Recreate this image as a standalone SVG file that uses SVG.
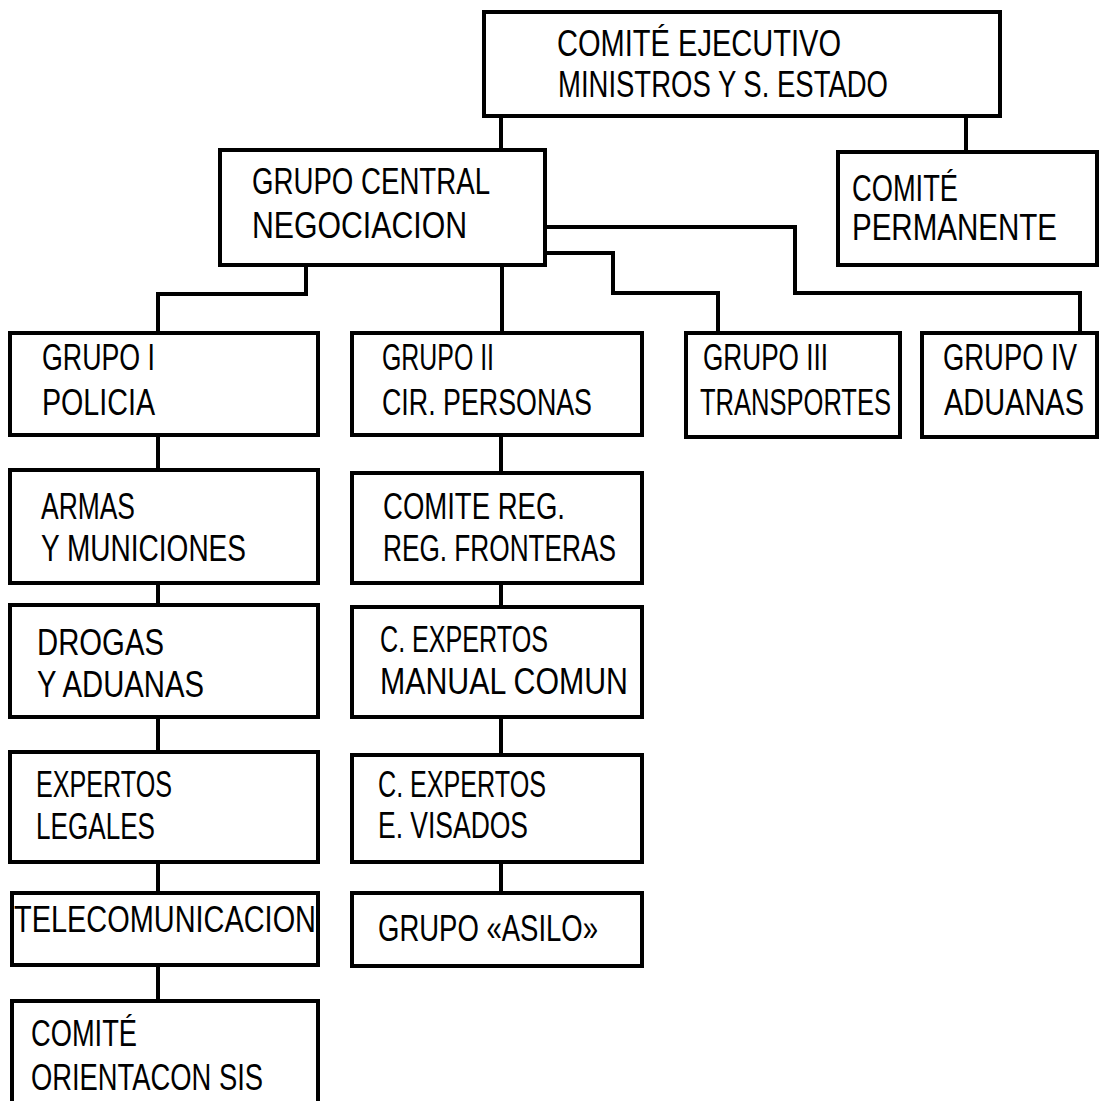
<svg xmlns="http://www.w3.org/2000/svg" width="1099" height="1101" viewBox="0 0 1099 1101">
<style>
.box{fill:#fff;stroke:#000;stroke-width:4}
.ln{fill:none;stroke:#000;stroke-width:4;stroke-linejoin:miter}
text{font-family:"Liberation Sans",Arial,sans-serif;font-size:36px;fill:#000}
</style>
<rect width="1099" height="1101" fill="#fff"/>
<g id="connectors">
<path class="ln" d="M501 116V150"/>
<path class="ln" d="M966 116V152"/>
<path class="ln" d="M306 265V294H158V333"/>
<path class="ln" d="M502 265V333"/>
<path class="ln" d="M545 253H613V293H718V333"/>
<path class="ln" d="M545 227H795V293H1080V333"/>
<path class="ln" d="M158 435V470"/>
<path class="ln" d="M158 583V605"/>
<path class="ln" d="M158 717V752"/>
<path class="ln" d="M158 862V893"/>
<path class="ln" d="M158 965V1001"/>
<path class="ln" d="M501 435V473"/>
<path class="ln" d="M501 583V607"/>
<path class="ln" d="M501 717V755"/>
<path class="ln" d="M501 862V893"/>
</g>
<g id="comite-ejecutivo"><rect class="box" x="484" y="12" width="516" height="104"/>
<text x="557" y="56" textLength="284" lengthAdjust="spacingAndGlyphs">COMITÉ  EJECUTIVO</text>
<text x="558" y="97" textLength="330" lengthAdjust="spacingAndGlyphs">MINISTROS  Y  S. ESTADO</text></g>
<g id="grupo-central"><rect class="box" x="220" y="150" width="325" height="115"/>
<text x="252" y="194" textLength="238" lengthAdjust="spacingAndGlyphs">GRUPO CENTRAL</text>
<text x="252" y="238" textLength="215" lengthAdjust="spacingAndGlyphs">NEGOCIACION</text></g>
<g id="comite-permanente"><rect class="box" x="838" y="152" width="259" height="113"/>
<text x="852" y="201" textLength="106" lengthAdjust="spacingAndGlyphs">COMITÉ</text>
<text x="852" y="240" textLength="205" lengthAdjust="spacingAndGlyphs">PERMANENTE</text></g>
<g id="grupo-1"><rect class="box" x="10" y="333" width="308" height="102"/>
<text x="42" y="370" textLength="113" lengthAdjust="spacingAndGlyphs">GRUPO I</text>
<text x="42" y="415" textLength="113" lengthAdjust="spacingAndGlyphs">POLICIA</text></g>
<g id="grupo-2"><rect class="box" x="352" y="333" width="290" height="102"/>
<text x="382" y="370" textLength="112" lengthAdjust="spacingAndGlyphs">GRUPO II</text>
<text x="382" y="415" textLength="210" lengthAdjust="spacingAndGlyphs">CIR. PERSONAS</text></g>
<g id="grupo-3"><rect class="box" x="686" y="333" width="214" height="104"/>
<text x="703" y="370" textLength="125" lengthAdjust="spacingAndGlyphs">GRUPO III</text>
<text x="700" y="415" textLength="191" lengthAdjust="spacingAndGlyphs">TRANSPORTES</text></g>
<g id="grupo-4"><rect class="box" x="922" y="333" width="175" height="104"/>
<text x="943" y="370" textLength="134" lengthAdjust="spacingAndGlyphs">GRUPO IV</text>
<text x="944" y="415" textLength="140" lengthAdjust="spacingAndGlyphs">ADUANAS</text></g>
<g id="armas"><rect class="box" x="10" y="470" width="308" height="113"/>
<text x="41" y="519" textLength="94" lengthAdjust="spacingAndGlyphs">ARMAS</text>
<text x="41" y="561" textLength="205" lengthAdjust="spacingAndGlyphs">Y MUNICIONES</text></g>
<g id="drogas"><rect class="box" x="10" y="605" width="308" height="112"/>
<text x="37" y="655" textLength="127" lengthAdjust="spacingAndGlyphs">DROGAS</text>
<text x="37" y="697" textLength="167" lengthAdjust="spacingAndGlyphs">Y ADUANAS</text></g>
<g id="expertos-legales"><rect class="box" x="10" y="752" width="308" height="110"/>
<text x="36" y="797" textLength="136" lengthAdjust="spacingAndGlyphs">EXPERTOS</text>
<text x="36" y="839" textLength="119" lengthAdjust="spacingAndGlyphs">LEGALES</text></g>
<g id="telecomunicacion"><rect class="box" x="12" y="893" width="306" height="72"/>
<text x="14" y="932" textLength="302" lengthAdjust="spacingAndGlyphs">TELECOMUNICACION</text></g>
<g id="comite-orientacion"><rect class="box" x="12" y="1001" width="306" height="110"/>
<text x="31" y="1046" textLength="106" lengthAdjust="spacingAndGlyphs">COMITÉ</text>
<text x="31" y="1090" textLength="232" lengthAdjust="spacingAndGlyphs">ORIENTACON SIS</text></g>
<g id="comite-reg"><rect class="box" x="352" y="473" width="290" height="110"/>
<text x="383" y="519" textLength="182" lengthAdjust="spacingAndGlyphs">COMITE REG.</text>
<text x="383" y="561" textLength="233" lengthAdjust="spacingAndGlyphs">REG. FRONTERAS</text></g>
<g id="expertos-manual"><rect class="box" x="352" y="607" width="290" height="110"/>
<text x="380" y="652" textLength="168" lengthAdjust="spacingAndGlyphs">C. EXPERTOS</text>
<text x="380" y="694" textLength="248" lengthAdjust="spacingAndGlyphs">MANUAL COMUN</text></g>
<g id="expertos-visados"><rect class="box" x="352" y="755" width="290" height="107"/>
<text x="378" y="797" textLength="168" lengthAdjust="spacingAndGlyphs">C. EXPERTOS</text>
<text x="378" y="838" textLength="150" lengthAdjust="spacingAndGlyphs">E. VISADOS</text></g>
<g id="grupo-asilo"><rect class="box" x="352" y="893" width="290" height="73"/>
<text x="378" y="941" textLength="220" lengthAdjust="spacingAndGlyphs">GRUPO «ASILO»</text></g>
</svg>
